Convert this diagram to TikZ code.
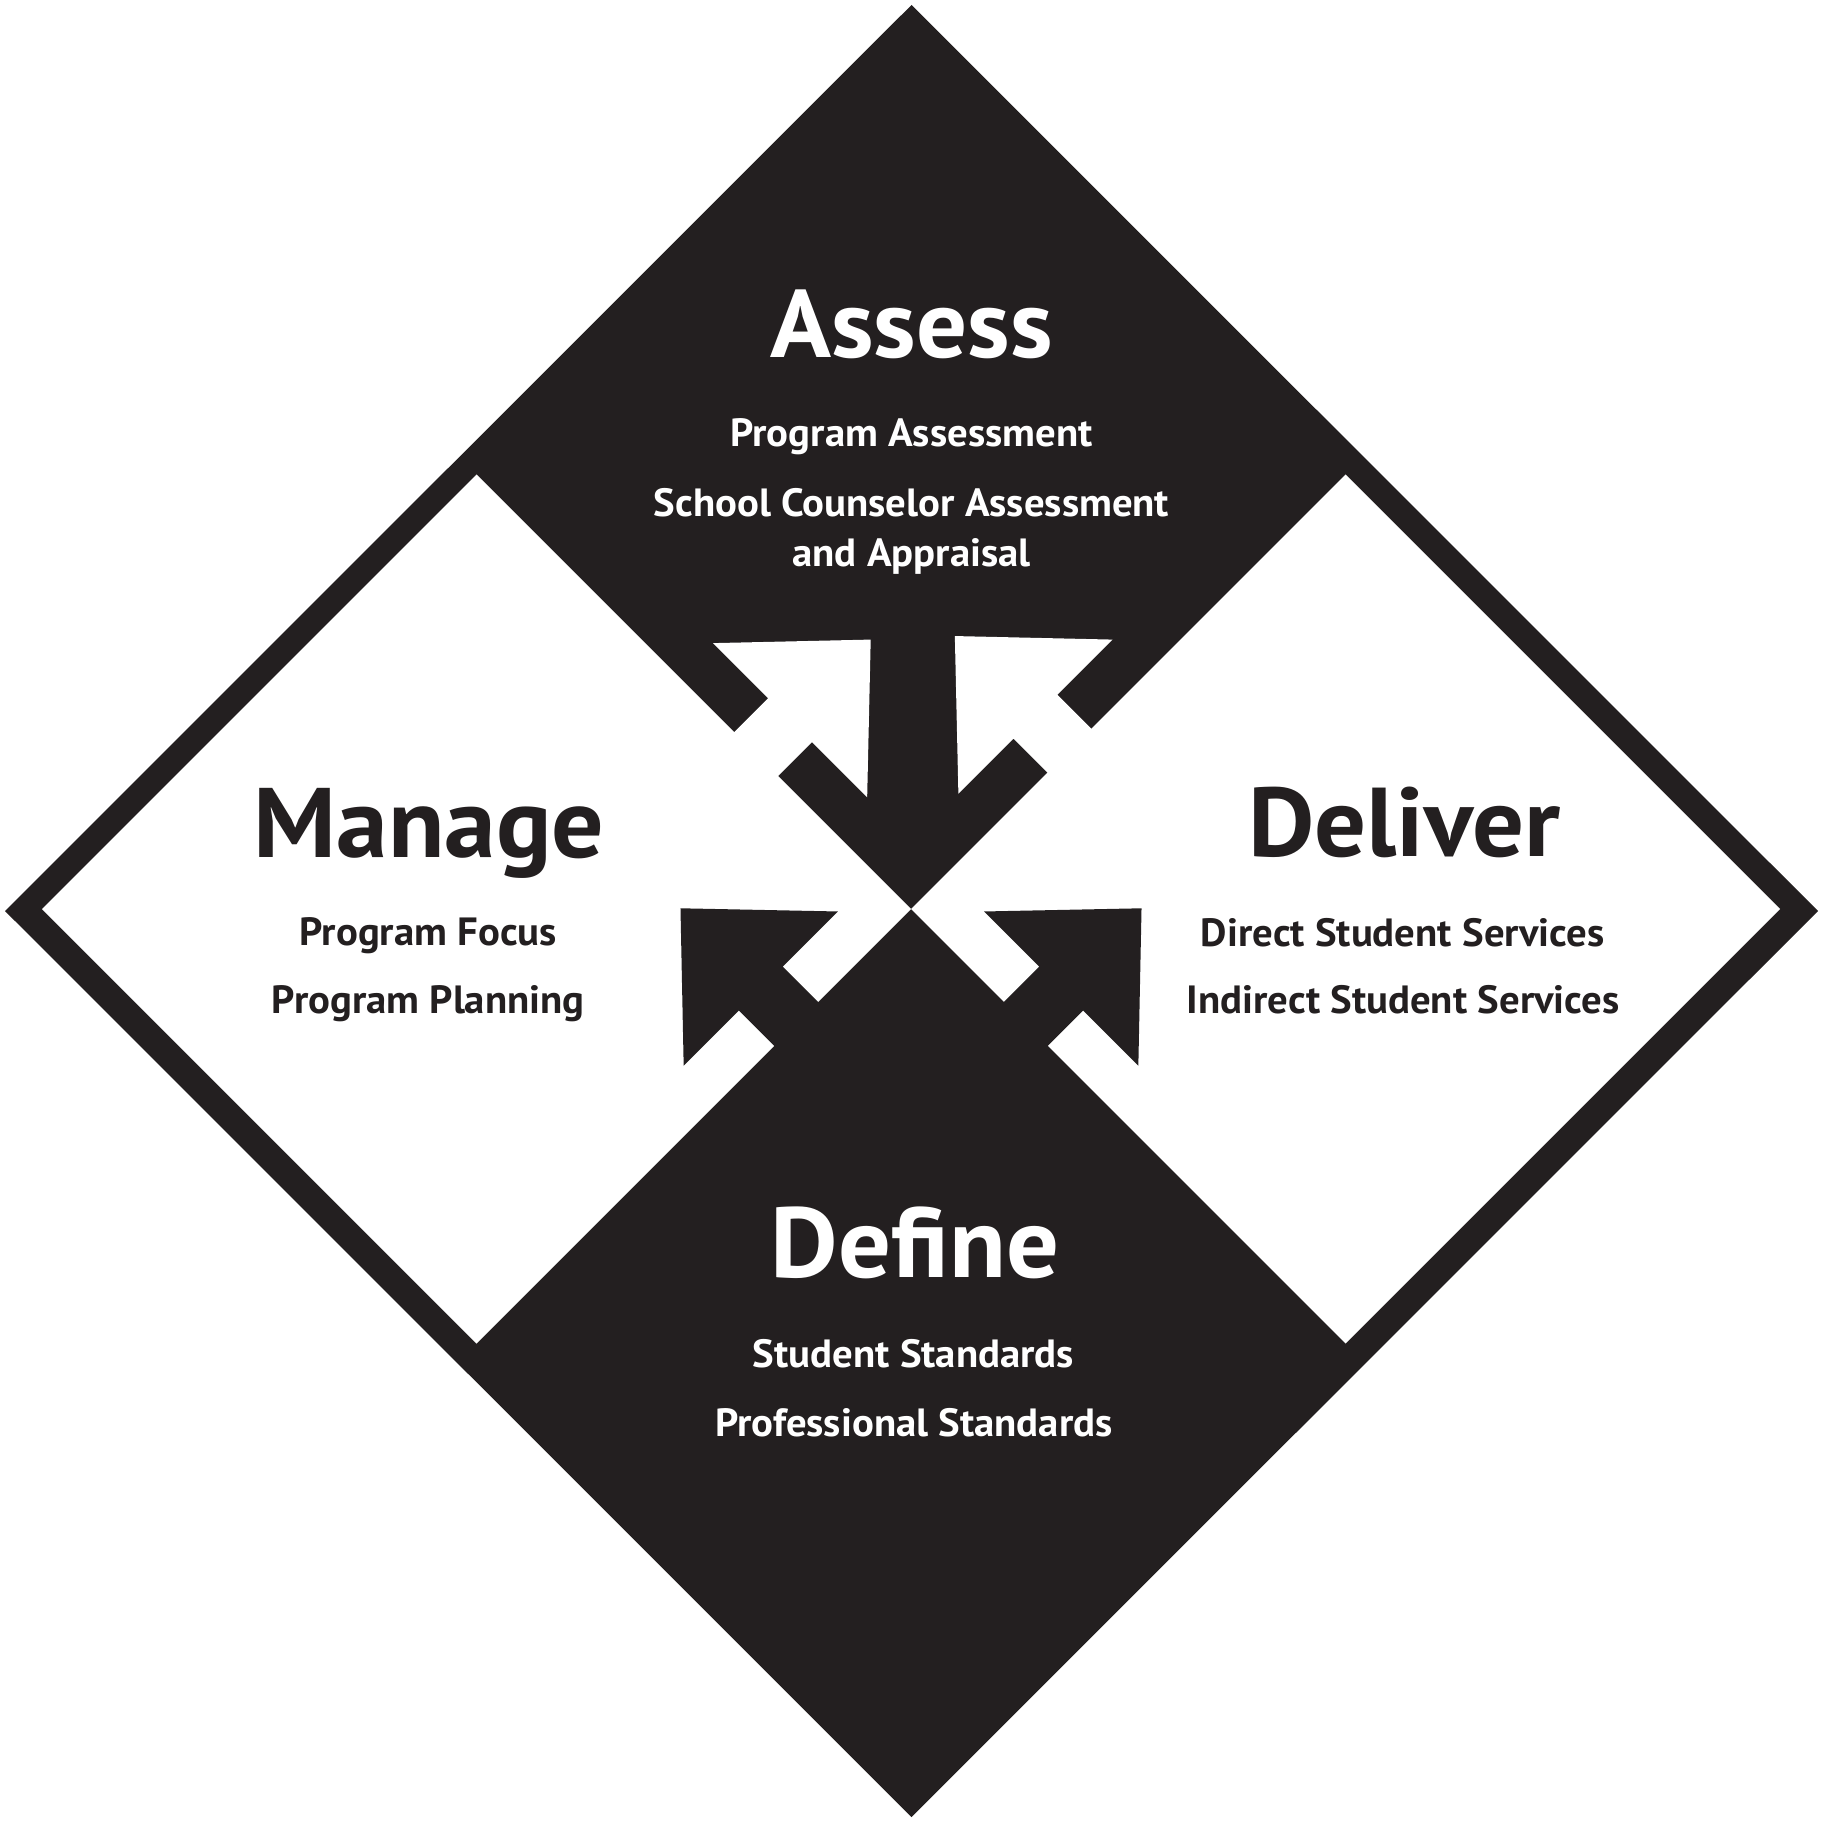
\documentclass[tikz,border=0pt]{standalone}
\usepackage{fontspec}
\setmainfont{PT Sans}
\newfontfamily\titlefont{PT Sans}[FakeStretch=1.05]
\newfontfamily\itemfont{PT Sans}[FakeStretch=1.035]
\definecolor{ink}{RGB}{35,31,32}
% one arrow cut across an edge: #1 offset from centre, #2 base, #3 tip
\newcommand{\arrowpath}[3]{(-6,#1-31) -- (#2,#1-31) -- (#2,#1-109) -- (#3,#1) -- (#2,#1+109) -- (#2,#1+31) -- (-6,#1+31) -- cycle}
\begin{document}
\begin{tikzpicture}[x=0.01cm,y=0.01cm,
	title/.style={font=\titlefont\bfseries\fontsize{#1}{30}\selectfont,anchor=base,inner sep=0pt},
	title/.default=28,
	item/.style={font=\itemfont\bfseries\fontsize{11.2}{13}\selectfont,anchor=base,inner sep=0pt}]
	\useasboundingbox (0,0) rectangle (1823,-1846);
	\coordinate (C) at (911,-909); % centre where the four parts meet
	\fill[ink] (911.5,-5) -- (1818,-911) -- (911.5,-1817) -- (5,-911) -- cycle;
	\fill[white] (C) -- (476.5,-474.5) -- (42,-909) -- (476.5,-1343.5) -- cycle; % Manage
	\fill[white] (C) -- (1345.5,-474.5) -- (1780,-909) -- (1345.5,-1343.5) -- cycle; % Deliver
	
	\begin{scope}[shift={(C)},rotate=45] \fill[white] \arrowpath{219}{48}{162}; \end{scope}
	\begin{scope}[shift={(C)},xscale=-1,rotate=45] \fill[white] \arrowpath{224}{48}{162}; \end{scope}
	\begin{scope}[shift={(C)},rotate=135] \fill[ink] \arrowpath{162.5}{50}{163.5}; \end{scope}
	\begin{scope}[shift={(C)},xscale=-1,rotate=135] \fill[ink] \arrowpath{162.5}{50}{163.5}; \end{scope}
	
	\node[title=27.3,white] (assess) at (911.5,-357.3) {Assess};
	\node[item,white] (assess1) at (911.5,-446.5) {Program Assessment};
	\node[item,white] (assess2) at (911.5,-516.7) {School Counselor Assessment};
	\node[item,white] (assess3) at (911.5,-567) {and Appraisal};
	
	\node[title=28.1,ink] (manage) at (429,-857.5) {Manage};
	\node[item,ink] (manage1) at (428.3,-945.5) {Program Focus};
	\node[item,ink] (manage2) at (428.3,-1013.5) {Program Planning};
	
	\node[title=27.8,ink] (deliver) at (1404.4,-856) {Deliver};
	\node[item,ink] (deliver1) at (1402.6,-946) {Direct Student Services};
	\node[item,ink] (deliver2) at (1403.2,-1013.5) {Indirect Student Services};
	
	\node[title=28.3,white] (define) at (915,-1277.5) {Define};
	\node[item,white] (define1) at (913.5,-1367.5) {Student Standards};
	\node[item,white] (define2) at (914,-1436.5) {Professional Standards};
\end{tikzpicture}
\end{document}
